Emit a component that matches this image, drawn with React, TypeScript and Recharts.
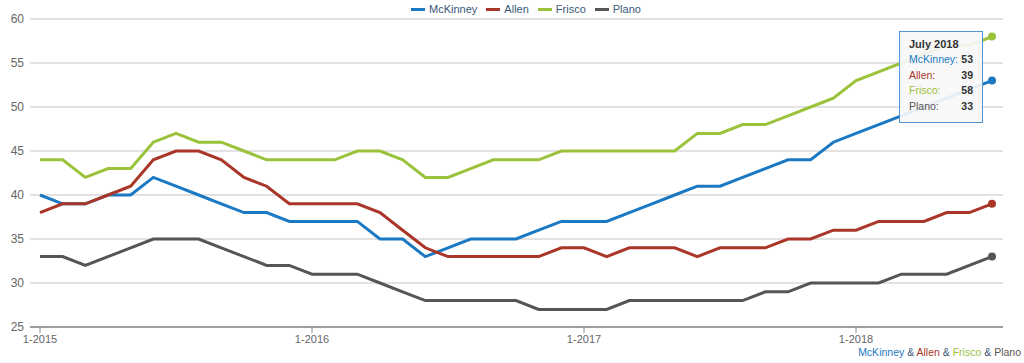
import { LineChart, Line, XAxis, YAxis, CartesianGrid, Tooltip, Legend } from 'recharts'

const months = [
  '1-2015', '2-2015', '3-2015', '4-2015', '5-2015', '6-2015', '7-2015', '8-2015', '9-2015', '10-2015', '11-2015', '12-2015',
  '1-2016', '2-2016', '3-2016', '4-2016', '5-2016', '6-2016', '7-2016', '8-2016', '9-2016', '10-2016', '11-2016', '12-2016',
  '1-2017', '2-2017', '3-2017', '4-2017', '5-2017', '6-2017', '7-2017', '8-2017', '9-2017', '10-2017', '11-2017', '12-2017',
  '1-2018', '2-2018', '3-2018', '4-2018', '5-2018', '6-2018', '7-2018',
]

const mckinney = [40, 39, 39, 40, 40, 42, 41, 40, 39, 38, 38, 37, 37, 37, 37, 35, 35, 33, 34, 35, 35, 35, 36, 37, 37, 37, 38, 39, 40, 41, 41, 42, 43, 44, 44, 46, 47, 48, 49, 50, 51, 52, 53]
const allen = [38, 39, 39, 40, 41, 44, 45, 45, 44, 42, 41, 39, 39, 39, 39, 38, 36, 34, 33, 33, 33, 33, 33, 34, 34, 33, 34, 34, 34, 33, 34, 34, 34, 35, 35, 36, 36, 37, 37, 37, 38, 38, 39]
const frisco = [44, 44, 42, 43, 43, 46, 47, 46, 46, 45, 44, 44, 44, 44, 45, 45, 44, 42, 42, 43, 44, 44, 44, 45, 45, 45, 45, 45, 45, 47, 47, 48, 48, 49, 50, 51, 53, 54, 55, 56, 57, 57, 58]
const plano = [33, 33, 32, 33, 34, 35, 35, 35, 34, 33, 32, 32, 31, 31, 31, 30, 29, 28, 28, 28, 28, 28, 27, 27, 27, 27, 28, 28, 28, 28, 28, 28, 29, 29, 30, 30, 30, 30, 31, 31, 31, 32, 33]

const xTicks = ['1-2015', '1-2016', '1-2017', '1-2018']
const yTicks = [25, 30, 35, 40, 45, 50, 55, 60]
const monthNames = ['January', 'February', 'March', 'April', 'May', 'June', 'July', 'August', 'September', 'October', 'November', 'December']

const series = [
  { key: 'McKinney', color: '#1b79c3' },
  { key: 'Allen', color: '#a93628' },
  { key: 'Frisco', color: '#9bc23b' },
  { key: 'Plano', color: '#555555' },
]

const data = months.map((month, i) => ({
  month,
  McKinney: mckinney[i],
  Allen: allen[i],
  Frisco: frisco[i],
  Plano: plano[i],
}))

const FONT = '"Liberation Sans", Arial, Helvetica, sans-serif'

const monthLabel = (label: string) => {
  const [m, y] = String(label).split('-')
  return `${monthNames[Number(m) - 1]} ${y}`
}

const ChartTooltip = ({ active, payload, label }: any) => {
  if (!active || !payload || !payload.length) return null
  return (
    <div style={{
      width: 82, height: 90, background: 'rgba(247,247,247,0.92)',
      border: '1px solid #4f95d6', fontFamily: FONT, fontSize: 10.5, position: 'relative',
    }}>
      <div style={{ position: 'absolute', left: 9, top: 6, fontWeight: 'bold', color: '#333', fontSize: 11 }}>{monthLabel(label)}</div>
      {payload.map((p: any, i: number) => (
        <div key={p.dataKey} style={{ position: 'absolute', left: 9, right: 9, top: 21 + i * 15.7, display: 'flex', justifyContent: 'space-between' }}>
          <span style={{ color: p.color }}>{p.name}:</span>
          <span style={{ fontWeight: 'bold', color: '#333' }}>{p.value}</span>
        </div>
      ))}
    </div>
  )
}

const TopLegend = () => (
  <div style={{ display: 'flex', justifyContent: 'center', paddingLeft: 58, fontFamily: FONT, fontSize: 11, color: '#3b5876', lineHeight: '14px' }}>
    {series.map((s) => (
      <span key={s.key} style={{ display: 'flex', alignItems: 'center', marginRight: 9 }}>
        <span style={{ display: 'inline-block', width: 14, height: 3, background: s.color, marginRight: 4 }} />
        {s.key}
      </span>
    ))}
  </div>
)

export default function App() {
  return (
    <div style={{ position: 'absolute', left: 0, top: 0, width: 1024, height: 363, background: '#fff', fontFamily: FONT }}>
      <LineChart width={1024} height={363} data={data} margin={{ top: 5, right: 21, bottom: 6, left: 0 }}>
        <CartesianGrid vertical={false} stroke="#d8d8d8" strokeWidth={1.5} />
        <Legend verticalAlign="top" height={14} content={<TopLegend />} wrapperStyle={{ top: 2 }} />
        <XAxis
          dataKey="month"
          ticks={xTicks}
          interval={0}
          padding={{ left: 10, right: 11 }}
          height={30}
          axisLine={{ stroke: '#888', strokeWidth: 1.5 }}
          tickLine={{ stroke: '#888' }}
          tickSize={6}
          tick={{ fill: '#666', fontSize: 11, fontFamily: FONT }}
        />
        <YAxis
          domain={[25, 60]}
          ticks={yTicks}
          width={30}
          axisLine={false}
          tickLine={false}
          tickMargin={0}
          tick={{ fill: '#666', fontSize: 12, fontFamily: FONT }}
        />
        <Tooltip
          content={<ChartTooltip />}
          defaultIndex={42}
          active
          cursor={false}
          position={{ x: 899, y: 31 }}
          isAnimationActive={false}
          wrapperStyle={{ outline: 'none' }}
        />
        {series.map((s) => (
          <Line
            key={s.key}
            type="linear"
            dataKey={s.key}
            name={s.key}
            stroke={s.color}
            strokeWidth={3}
            dot={false}
            activeDot={{ r: 4, fill: s.color, strokeWidth: 0 }}
            isAnimationActive={false}
          />
        ))}
      </LineChart>
      <div style={{ position: 'absolute', right: 3, top: 345, fontSize: 10.5, lineHeight: '14px', color: '#3b5876', whiteSpace: 'nowrap' }}>
        <span style={{ color: '#1b79c3' }}>McKinney</span> &amp; <span style={{ color: '#a93628' }}>Allen</span> &amp;{' '}
        <span style={{ color: '#9bc23b' }}>Frisco</span> &amp; <span style={{ color: '#555' }}>Plano</span>
      </div>
    </div>
  )
}
